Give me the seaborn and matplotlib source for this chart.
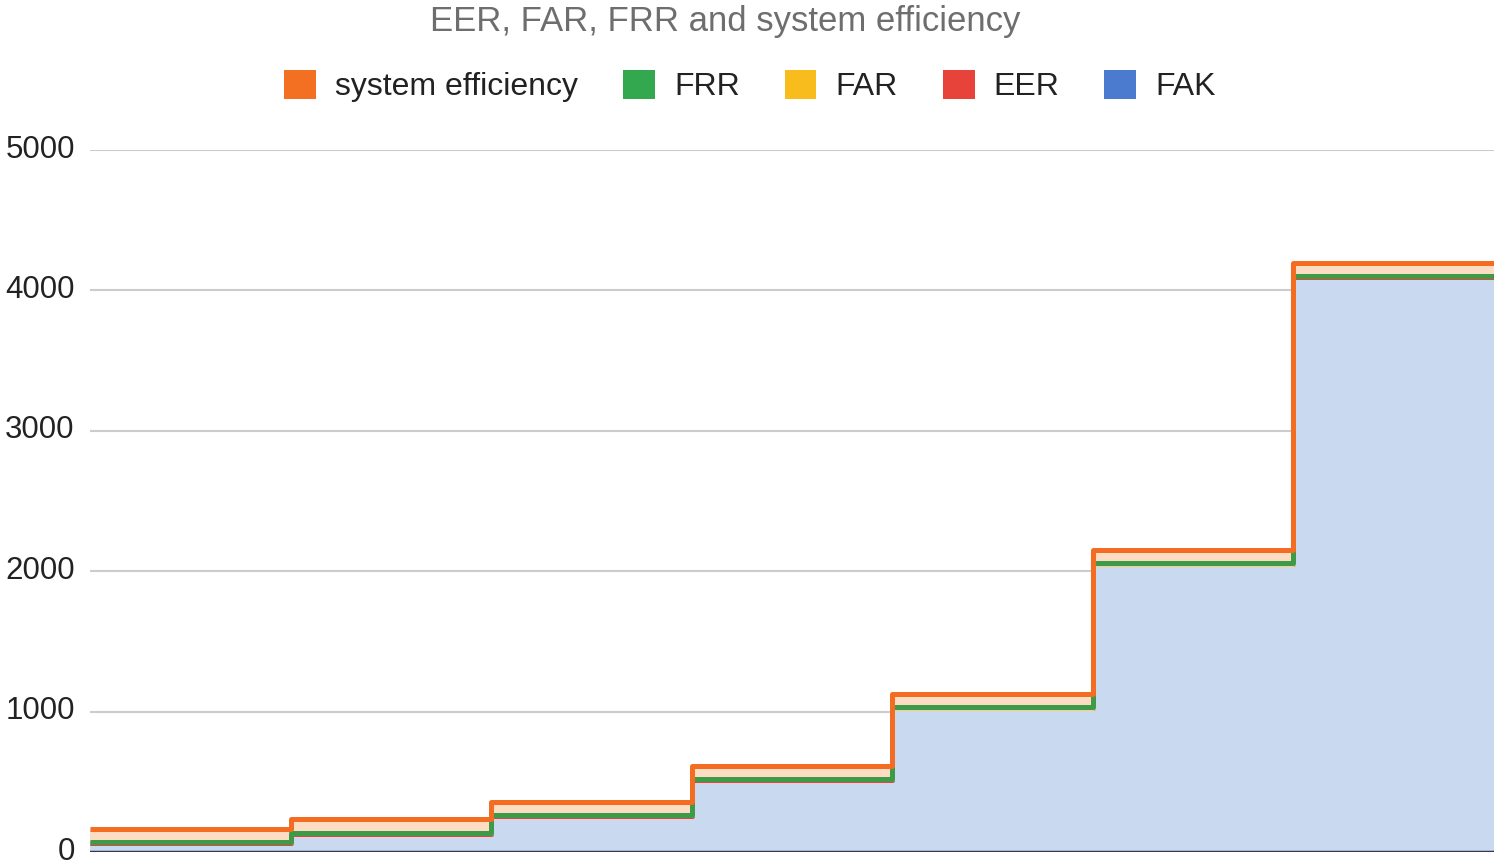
import numpy as np
import pandas as pd
import matplotlib
matplotlib.use("Agg")
import matplotlib.pyplot as plt
import matplotlib.transforms as mtransforms
from matplotlib.patches import Patch
import seaborn as sns

# ---- data ----
series_names = ["FAK", "EER", "FAR", "FRR", "system efficiency"]
fak = [64, 128, 256, 512, 1024, 2048, 4096]
eer = [3, 3, 3, 3, 3, 3, 3]
far = [2, 2, 2, 2, 2, 2, 2]
frr = [5, 5, 5, 5, 5, 5, 5]
system_efficiency = [88, 98, 92, 92, 92, 92, 88]
y_ticks = [0, 1000, 2000, 3000, 4000, 5000]

line_colors = {"FAK": "#4a7fd4", "EER": "#ea4335", "FAR": "#f3d27a",
               "FRR": "#3d9b47", "system efficiency": "#f36c21"}
fill_colors = {"FAK": "#c9d9ef", "EER": "#f7c8c2", "FAR": "#fdeab0",
               "FRR": "#e6efcf", "system efficiency": "#fddcc4"}
legend_colors = {"FAK": "#4a7bcf", "EER": "#e8433a", "FAR": "#f8bc1c",
                 "FRR": "#34a84f", "system efficiency": "#f36f21"}

sns.set_theme(style="white")
plt.rcParams["font.family"] = ["Liberation Sans", "DejaVu Sans"]

values = [fak, eer, far, frr, system_efficiency]
n = len(fak)
edges = np.arange(n + 1)

fig = plt.figure(figsize=(15, 8.68), dpi=100)
ax = fig.add_axes([90 / 1500, 16 / 868, 1404 / 1500, 702 / 868])

# stacked cumulative values
cum = np.zeros(n)
rows = []
lowers, uppers = [], []
for name, vals in zip(series_names, values):
    lower = cum.copy()
    cum = cum + np.array(vals, dtype=float)
    lowers.append(lower)
    uppers.append(cum.copy())
    ext = np.append(cum, cum[-1])
    for xi, yi in zip(edges, ext):
        rows.append({"x": xi, "y": yi, "series": name})
df = pd.DataFrame(rows)

for name, lo, up in zip(series_names, lowers, uppers):
    ax.fill_between(edges, np.append(lo, lo[-1]), np.append(up, up[-1]),
                    step="post", color=fill_colors[name], linewidth=0, zorder=1)

sns.lineplot(data=df, x="x", y="y", hue="series", hue_order=series_names,
             palette=line_colors, drawstyle="steps-post", linewidth=3.6,
             legend=False, ax=ax, zorder=3, estimator=None, sort=True)
for ln in ax.get_lines():
    ln.set_solid_joinstyle("round")
    ln.set_solid_capstyle("butt")

ax.set_xlim(0, n)
ax.set_ylim(0, 5000)
ax.set_yticks(y_ticks)
ax.set_yticklabels([str(t) for t in y_ticks], fontsize=22.5, color="#222222")
ax.set_xticks([])
ax.set_xlabel("")
ax.set_ylabel("")
ax.tick_params(axis="y", length=0, pad=11)
offset = mtransforms.ScaledTranslation(0, 4 / 100, fig.dpi_scale_trans)
for lab in ax.get_yticklabels():
    lab.set_verticalalignment("center_baseline")
    lab.set_transform(lab.get_transform() + offset)
ax.yaxis.grid(True, color="#cccccc", linewidth=1.5, zorder=0)
ax.set_axisbelow(True)
for s in ax.spines.values():
    s.set_visible(False)
ax.axhline(0, color="#333a55", linewidth=2.5, zorder=4)

# title
fig.text(725 / 1500, 1 - 21 / 868, "EER, FAR, FRR and system efficiency",
         ha="center", va="center", fontsize=25, color="#6e6e6e")

# legend
legend_order = ["system efficiency", "FRR", "FAR", "EER", "FAK"]
handles = [Patch(facecolor=legend_colors[nm], edgecolor="none") for nm in legend_order]
fig.legend(handles, legend_order, loc="center", bbox_to_anchor=(750 / 1500, 1 - 86 / 868),
           ncol=5, frameon=False, fontsize=23, handlelength=1.0, handleheight=1.05,
           handletextpad=0.6, columnspacing=1.4, labelcolor="#222222")

fig.savefig("out.png", dpi=100)
